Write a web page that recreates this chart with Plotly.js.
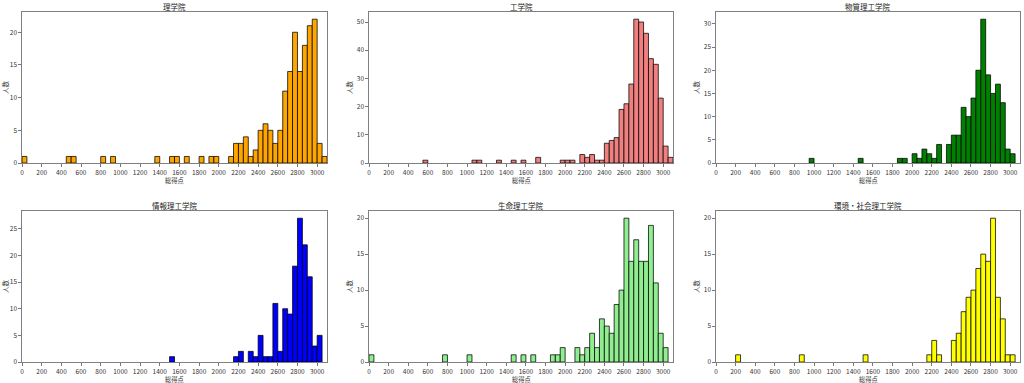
<!DOCTYPE html>
<html>
<head>
<meta charset="utf-8">
<script src="https://cdn.plot.ly/plotly-3.0.1.min.js"></script>
<style>html,body{margin:0;padding:0;background:#fff;}#chart{width:1024px;height:383px;}</style>
</head>
<body>
<div id="chart"></div>
<script>
// Bin width 50; each array lists bin start (総得点) and the count (人数) in that bin.
const titles = ["理学院", "工学院", "物質理工学院", "情報理工学院", "生命理工学院", "環境・社会理工学院"];
const colors = ["#FFA500", "#F08080", "#008000", "#0000FF", "#90EE90", "#FFFF00"];

const rigaku_bins   = [0, 450, 500, 800, 900, 1350, 1500, 1550, 1650, 1800, 1900, 1950, 2100, 2150, 2200, 2250, 2300, 2350, 2400, 2450, 2500, 2550, 2600, 2650, 2700, 2750, 2800, 2850, 2900, 2950, 3000, 3050];
const rigaku_counts = [1, 1, 1, 1, 1, 1, 1, 1, 1, 1, 1, 1, 1, 3, 3, 4, 1, 2, 5, 6, 5, 3, 5, 11, 14, 20, 14, 18, 21, 22, 3, 1];

const kogaku_bins   = [550, 1050, 1100, 1300, 1450, 1550, 1700, 1950, 2000, 2050, 2150, 2200, 2250, 2300, 2350, 2400, 2450, 2500, 2550, 2600, 2650, 2700, 2750, 2800, 2850, 2900, 2950, 3000, 3050];
const kogaku_counts = [1, 1, 1, 1, 1, 1, 2, 1, 1, 1, 3, 2, 3, 1, 1, 7, 8, 9, 19, 21, 28, 51, 50, 46, 37, 35, 23, 6, 2];

const busshitsu_bins   = [950, 1450, 1850, 1900, 2000, 2050, 2100, 2150, 2200, 2250, 2350, 2400, 2450, 2500, 2550, 2600, 2650, 2700, 2750, 2800, 2850, 2900, 2950, 3000];
const busshitsu_counts = [1, 1, 1, 1, 2, 1, 3, 2, 1, 4, 4, 6, 6, 12, 10, 14, 20, 31, 19, 15, 17, 13, 3, 2];

const joho_bins   = [1500, 2150, 2200, 2300, 2350, 2400, 2450, 2500, 2550, 2600, 2650, 2700, 2750, 2800, 2850, 2900, 2950, 3000];
const joho_counts = [1, 1, 2, 2, 1, 5, 1, 1, 11, 2, 10, 9, 18, 27, 22, 16, 3, 5];

const seimei_bins   = [0, 750, 1000, 1450, 1550, 1650, 1850, 1900, 1950, 2100, 2150, 2200, 2250, 2300, 2350, 2400, 2450, 2500, 2550, 2600, 2650, 2700, 2750, 2800, 2850, 2900, 2950, 3000];
const seimei_counts = [1, 1, 1, 1, 1, 1, 1, 1, 2, 2, 1, 2, 4, 2, 6, 5, 4, 8, 10, 20, 14, 17, 14, 14, 19, 11, 4, 2];

const kankyo_bins   = [200, 850, 1500, 2150, 2200, 2250, 2400, 2450, 2500, 2550, 2600, 2650, 2700, 2750, 2800, 2850, 2900, 2950, 3000];
const kankyo_counts = [1, 1, 1, 1, 3, 1, 3, 4, 7, 9, 10, 13, 15, 14, 20, 9, 6, 1, 1];

const xTitle = "総得点";
const yTitle = "人数";
const xTicks = [0, 200, 400, 600, 800, 1000, 1200, 1400, 1600, 1800, 2000, 2200, 2400, 2600, 2800, 3000];

const panels = [
  [rigaku_bins, rigaku_counts],
  [kogaku_bins, kogaku_counts],
  [busshitsu_bins, busshitsu_counts],
  [joho_bins, joho_counts],
  [seimei_bins, seimei_counts],
  [kankyo_bins, kankyo_counts]
];

const W = 1024, H = 383;
const colPx = [[22, 327], [369, 673], [716, 1020]];
const rowPx = [[12, 163], [211, 362]];
const FONT = "'Noto Sans CJK JP', 'DejaVu Sans', sans-serif";

const data = [];
const layout = {
  width: W, height: H,
  margin: {l: 0, r: 0, t: 0, b: 0},
  paper_bgcolor: "#fff", plot_bgcolor: "#fff",
  showlegend: false,
  font: {family: FONT, color: "#333", size: 7},
  annotations: [],
  bargap: 0
};

panels.forEach((p, i) => {
  const r = Math.floor(i / 3), c = i % 3;
  const ax = i === 0 ? "" : String(i + 1);
  const maxC = Math.max(...p[1]);
  data.push({
    type: "bar",
    x: p[0], y: p[1],
    width: 50, offset: 0,
    marker: {color: colors[i], line: {color: "rgba(0,0,0,0.75)", width: 1}},
    xaxis: "x" + ax, yaxis: "y" + ax,
    hoverinfo: "x+y"
  });
  const xd = [colPx[c][0] / W, colPx[c][1] / W];
  const yd = [1 - rowPx[r][1] / H, 1 - rowPx[r][0] / H];
  const dtickY = maxC > 40 ? 10 : 5;
  layout["xaxis" + ax] = {
    domain: xd, anchor: "y" + ax, range: [0, 3100],
    tickvals: xTicks, ticks: "outside", ticklen: 2.5, tickcolor: "#555", tickwidth: 0.8,
    showline: true, mirror: true, linecolor: "#808080", linewidth: 1.2,
    showgrid: false, zeroline: false,
    tickfont: {size: 6.5, color: "#333", family: FONT},
    fixedrange: true
  };
  layout["yaxis" + ax] = {
    domain: yd, anchor: "x" + ax, range: [0, maxC * 1.05],
    dtick: dtickY, tick0: 0, ticks: "outside", ticklen: 2.5, tickcolor: "#555", tickwidth: 0.8,
    showline: true, mirror: true, linecolor: "#808080", linewidth: 1.2,
    showgrid: false, zeroline: false,
    tickfont: {size: 6.5, color: "#333", family: FONT},
    title: {text: yTitle, font: {size: 6.5, color: "#333", family: FONT}, standoff: 3},
    fixedrange: true
  };
  // panel title
  layout.annotations.push({
    text: titles[i], xref: "paper", yref: "paper",
    x: (xd[0] + xd[1]) / 2, y: yd[1], yanchor: "middle", xanchor: "center", yshift: 6,
    showarrow: false, font: {size: 7.5, color: "#222", family: FONT}
  });
  // x axis title
  layout.annotations.push({
    text: xTitle, xref: "paper", yref: "paper",
    x: (xd[0] + xd[1]) / 2, y: yd[0], yanchor: "top", xanchor: "center", yshift: -10.5,
    showarrow: false, font: {size: 6.3, color: "#333", family: FONT}
  });
});

Plotly.newPlot("chart", data, layout, {displayModeBar: false, staticPlot: true});
</script>
</body>
</html>
